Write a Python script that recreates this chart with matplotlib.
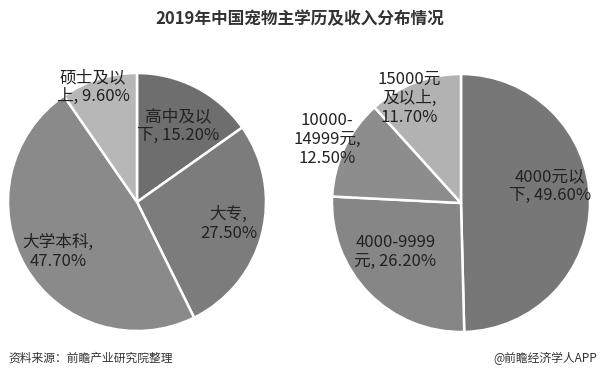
import matplotlib
matplotlib.use("Agg")
import matplotlib.pyplot as plt

plt.rcParams['font.family'] = ['Noto Sans CJK SC', 'DejaVu Sans']

# 学历分布
edu_labels = ["高中及以\n下, 15.20%", "大专,\n27.50%", "大学本科,\n47.70%", "硕士及以\n上, 9.60%"]
edu_values = [15.2, 27.5, 47.7, 9.6]
edu_colors = ["#6e6e6e", "#7c7c7c", "#8a8a8a", "#b7b7b7"]

# 收入分布
inc_labels = ["4000元以\n下, 49.60%", "4000-9999\n元, 26.20%", "10000-\n14999元,\n12.50%", "15000元\n及以上,\n11.70%"]
inc_values = [49.6, 26.2, 12.5, 11.7]
inc_colors = ["#777777", "#868686", "#8d8d8d", "#b2b2b2"]

W, H = 600, 379
fig = plt.figure(figsize=(6, 3.79), dpi=100)
fig.patch.set_facecolor("white")

def pie_axes(cx, cy, r):
    return fig.add_axes([(cx - r) / W, (H - cy - r) / H, 2 * r / W, 2 * r / H])

def draw_pie(ax, values, colors, labels, label_pos):
    ax.pie(values, colors=colors, startangle=90, counterclock=False, radius=1,
           wedgeprops=dict(edgecolor="white", linewidth=1.8))
    for lab, (x, y) in zip(labels, label_pos):
        ax.text(x, y, lab, ha="center", va="center", fontsize=12,
                color="#222222", linespacing=1.15, clip_on=False)
    ax.set_xlim(-1, 1)
    ax.set_ylim(-1, 1)
    ax.set_aspect("equal")
    ax.axis("off")

ax1 = pie_axes(137, 202, 129)
draw_pie(ax1, edu_values, edu_colors, edu_labels,
         [(0.32, 0.59), (0.71, -0.17), (-0.61, -0.39), (-0.34, 0.89)])

ax2 = pie_axes(461, 203, 129)
draw_pie(ax2, inc_values, inc_colors, inc_labels,
         [(0.69, 0.13), (-0.51, -0.38), (-1.04, 0.49), (-0.40, 0.81)])

fig.text(0.5, 1 - 19 / H, "2019年中国宠物主学历及收入分布情况", ha="center", va="center",
         fontsize=12, fontweight="bold", color="#333333")
fig.text(8 / W, 1 - 358 / H, "资料来源：前瞻产业研究院整理", ha="left", va="center",
         fontsize=8.5, color="#333333")
fig.text(597 / W, 1 - 358 / H, "@前瞻经济学人APP", ha="right", va="center",
         fontsize=8.5, color="#333333")

fig.savefig("out.png", dpi=100, facecolor="white")
